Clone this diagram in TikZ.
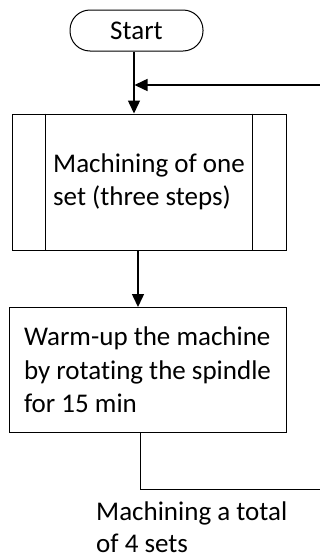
\documentclass[tikz,border=0pt]{standalone}
\usepackage{fontspec}
\setmainfont{Carlito}[Ligatures={NoCommon}]
\usetikzlibrary{arrows.meta}
\begin{document}
\begin{tikzpicture}[x=1pt,y=-1pt,
  every node/.style={font=\fontsize{27}{33.5}\selectfont, inner sep=0pt},
  box/.style={draw, line width=1pt, align=left},
  flow/.style={line width=1.5pt, -{Triangle[length=13pt,width=12pt]}},
  link/.style={line width=1pt}]
  \useasboundingbox (0,0) rectangle (320,560);

  % terminal
  \node[box, rounded corners=20pt, minimum width=133pt, minimum height=41pt] (start) at (136.5,30.5) {Start};

  % predefined process with side bars
  \node[box, minimum width=274pt, minimum height=136pt] (proc) at (149,182) {Machining of one\\set (three steps)};
  \draw[link] ([xshift=34pt]proc.north west) -- ([xshift=34pt]proc.south west);
  \draw[link] ([xshift=-34pt]proc.north east) -- ([xshift=-34pt]proc.south east);

  % warm-up step
  \node[box, minimum width=277pt, minimum height=125pt] (warm) at (147.5,370) {Warm-up the machine\\by rotating the spindle\\for 15 min};

  % loop label
  \node[anchor=base west, align=left, font=\fontsize{27}{32}\selectfont] (note) at (96,552) {Machining a total\\of 4 sets};

  \coordinate (loopin) at (320,85);
  \coordinate (loopout) at (320,489);

  \draw[flow] ([xshift=-2.5pt]start.south) -- ([xshift=-15pt]proc.north);
  \draw[flow] (loopin) -- (134.5,85);
  \draw[flow] ([xshift=-11pt]proc.south) -- ([xshift=-9.5pt]warm.north);
  \draw[link] ([xshift=-7.5pt]warm.south) |- (loopout);
\end{tikzpicture}
\end{document}
